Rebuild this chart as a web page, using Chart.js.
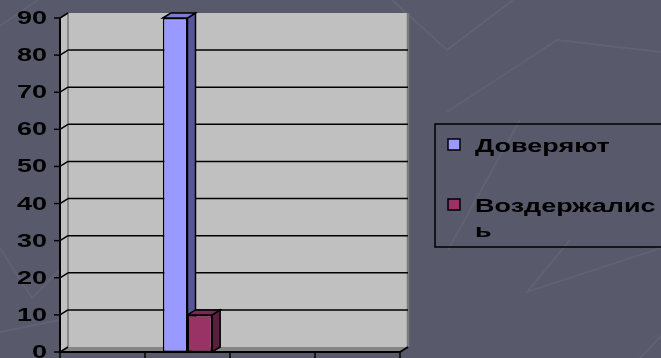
<!DOCTYPE html>
<html>
<head>
<meta charset="utf-8">
<script src="https://cdn.jsdelivr.net/npm/chart.js@4/dist/chart.umd.min.js"></script>
<style>
  html, body { margin: 0; padding: 0; background: #585a6b; }
  #wrap { width: 661px; height: 358px; }
  canvas { display: block; }
</style>
</head>
<body>
<div id="wrap"><canvas id="c" width="661" height="358"></canvas></div>
<script>
// Survey result: one question, two answer groups
const categories = ['', '', '', ''];
const seriesNames = ['Доверяют', 'Воздержались'];
const trustValues = [null, 90, null, null];
const abstainValues = [null, 10, null, null];
const yTickValues = [0, 10, 20, 30, 40, 50, 60, 70, 80, 90];

// Face colours for the 3-D bars: front, side, top
const palette = [
  { front: '#9999ff', side: '#56569c', top: '#7c7cd2' },
  { front: '#993366', side: '#5a1f3e', top: '#7a2a52' }
];

const BG = '#585a6b';
const DEPTH_X = 8, DEPTH_Y = -5;      // 3-D depth offset of walls and bars
const TEXT_SX = 1.5;                   // horizontal stretch applied to labels
const FONT = 'bold 18px "Liberation Sans", Arial, sans-serif';

function stretchedText(ctx, text, x, y, align, baseline) {
  ctx.save();
  ctx.translate(x, y);
  ctx.scale(TEXT_SX, 1);
  ctx.textAlign = align;
  ctx.textBaseline = baseline;
  ctx.fillText(text, 0, 0);
  ctx.restore();
}

function poly(ctx, pts, fill, stroke, lw) {
  ctx.beginPath();
  ctx.moveTo(pts[0][0], pts[0][1]);
  for (let i = 1; i < pts.length; i++) ctx.lineTo(pts[i][0], pts[i][1]);
  ctx.closePath();
  if (fill) { ctx.fillStyle = fill; ctx.fill(); }
  if (stroke) { ctx.strokeStyle = stroke; ctx.lineWidth = lw || 1.5; ctx.stroke(); }
}

function line(ctx, x1, y1, x2, y2, color, lw) {
  ctx.beginPath();
  ctx.moveTo(x1, y1);
  ctx.lineTo(x2, y2);
  ctx.strokeStyle = color;
  ctx.lineWidth = lw;
  ctx.stroke();
}

// Slide background with faint decorative strokes
const backdropPlugin = {
  id: 'backdrop',
  beforeDraw(chart) {
    const ctx = chart.ctx;
    ctx.save();
    ctx.fillStyle = BG;
    ctx.fillRect(0, 0, chart.width, chart.height);
    ctx.strokeStyle = 'rgba(255,255,255,0.05)';
    ctx.lineWidth = 2;
    const strokes = [
      [[392, 0], [447, 50], [513, 0]],
      [[447, 112], [557, 40], [661, 52]],
      [[570, 240], [527, 292], [661, 248]],
      [[640, 358], [661, 336]],
      [[0, 248], [32, 298], [62, 268]],
      [[0, 332], [60, 320]],
      [[0, 26], [38, 0]],
      [[448, 250], [520, 120]]
    ];
    strokes.forEach(s => {
      ctx.beginPath();
      ctx.moveTo(s[0][0], s[0][1]);
      for (let i = 1; i < s.length; i++) ctx.lineTo(s[i][0], s[i][1]);
      ctx.stroke();
    });
    ctx.restore();
  }
};

// Walls, floor, axes, gridlines and the hidden faces of the bars
const scenePlugin = {
  id: 'scene3d',
  beforeDatasetsDraw(chart) {
    const ctx = chart.ctx;
    const { left, right, top, bottom } = chart.chartArea;
    const y = chart.scales.y;
    const x = chart.scales.x;
    const bx = left + DEPTH_X, by = bottom + DEPTH_Y;
    const tx = right + DEPTH_X, ty = top + DEPTH_Y;
    ctx.save();

    // back wall and side wall
    poly(ctx, [[bx, ty], [tx, ty], [tx, by], [bx, by]], '#c0c0c0');
    poly(ctx, [[left, top], [bx, ty], [bx, by], [left, bottom]], '#c0c0c0');
    // floor
    poly(ctx, [[left, bottom], [bx, by], [tx, by], [right, bottom]], '#858585');
    // wall edges
    line(ctx, bx, ty, bx, by, '#8a8a8a', 2);
    line(ctx, tx, ty, tx, by, '#7a7a7a', 2.5);

    // gridlines across the back wall, with the fold on the side wall
    yTickValues.forEach(v => {
      const py = y.getPixelForValue(v);
      line(ctx, left, py, bx, py + DEPTH_Y, '#000', 1.5);
      if (v > y.min && v < y.max) line(ctx, bx, py + DEPTH_Y, tx, py + DEPTH_Y, '#000', 1.5);
      line(ctx, left - 6, py, left, py, '#000', 1.5);
    });

    // axes
    line(ctx, left, top, left, bottom + 1, '#000', 2);
    line(ctx, left - 1, bottom, right, bottom, '#000', 2);
    line(ctx, right, bottom, tx, by, '#000', 2);
    // category separators on the x axis
    for (let i = 0; i <= categories.length; i++) {
      const px = i === categories.length
        ? right
        : x.getPixelForValue(i) - (x.getPixelForValue(1) - x.getPixelForValue(0)) / 2;
      line(ctx, px, bottom, px, bottom + 7, '#000', 1.5);
    }

    // value labels on the y axis
    ctx.fillStyle = '#000';
    ctx.font = FONT;
    yTickValues.forEach(v => {
      stretchedText(ctx, String(v), left - 13, y.getPixelForValue(v) + 1, 'right', 'middle');
    });

    // side and top faces of every bar, back to front
    chart.data.datasets.forEach((ds, di) => {
      const meta = chart.getDatasetMeta(di);
      const col = palette[di];
      meta.data.forEach((bar, i) => {
        if (ds.data[i] == null) return;
        const p = bar.getProps(['x', 'y', 'base', 'width'], true);
        const l = p.x - p.width / 2, r = p.x + p.width / 2;
        poly(ctx, [[r, p.y], [r + DEPTH_X, p.y + DEPTH_Y], [r + DEPTH_X, p.base + DEPTH_Y], [r, p.base]],
             col.side, '#000', 1.5);
        poly(ctx, [[l, p.y], [l + DEPTH_X, p.y + DEPTH_Y], [r + DEPTH_X, p.y + DEPTH_Y], [r, p.y]],
             col.top, '#000', 1.5);
      });
    });
    ctx.restore();
  },
  afterDraw(chart) {
    // legend box on the right
    const ctx = chart.ctx;
    ctx.save();
    ctx.strokeStyle = '#000';
    ctx.lineWidth = 1.5;
    ctx.strokeRect(435, 124, 240, 123);
    ctx.font = FONT;
    const textX = 475;
    const maxW = chart.width - textX;
    const rows = [152, 212];
    seriesNames.forEach((name, i) => {
      // wrap on characters when the label runs past the edge
      const lines = [];
      let cur = '';
      for (const ch of name) {
        if (cur && ctx.measureText(cur + ch).width * TEXT_SX > maxW) { lines.push(cur); cur = ch; }
        else cur += ch;
      }
      lines.push(cur);
      const base = rows[i];
      ctx.fillStyle = palette[i].front;
      ctx.fillRect(448, base - 13, 12, 11);
      ctx.strokeStyle = '#000';
      ctx.lineWidth = 1.5;
      ctx.strokeRect(448, base - 13, 12, 11);
      ctx.fillStyle = '#000';
      lines.forEach((t, k) => stretchedText(ctx, t, textX, base + k * 25, 'left', 'alphabetic'));
    });
    ctx.restore();
  }
};

new Chart(document.getElementById('c'), {
  type: 'bar',
  data: {
    labels: categories,
    datasets: [
      { label: seriesNames[0], data: trustValues, backgroundColor: palette[0].front,
        borderColor: '#000', borderWidth: 1.5, borderSkipped: false },
      { label: seriesNames[1], data: abstainValues, backgroundColor: palette[1].front,
        borderColor: '#000', borderWidth: 1.5, borderSkipped: false }
    ]
  },
  options: {
    responsive: false,
    animation: false,
    devicePixelRatio: 1,
    categoryPercentage: 0.58,
    barPercentage: 1.0,
    layout: { padding: { top: 18, right: 261, bottom: 0, left: 0 } },
    plugins: { legend: { display: false }, tooltip: { enabled: false } },
    scales: {
      x: {
        grid: { display: false }, border: { display: false },
        ticks: { display: false },
        afterFit(s) { s.height = 6; }
      },
      y: {
        min: 0, max: 90,
        grid: { display: false }, border: { display: false },
        ticks: { display: false, stepSize: 10 },
        afterFit(s) { s.width = 60; }
      }
    }
  },
  plugins: [backdropPlugin, scenePlugin]
});
</script>
</body>
</html>
